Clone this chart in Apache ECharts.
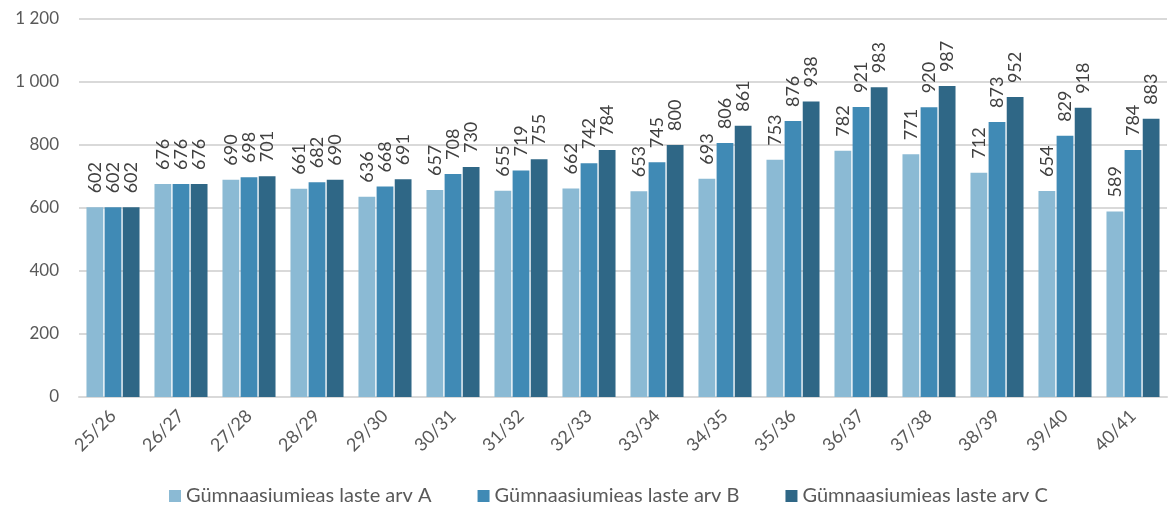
<!DOCTYPE html>
<html>
<head>
<meta charset="utf-8">
<script src="https://cdn.jsdelivr.net/npm/echarts@6/dist/echarts.min.js"></script>
<style>
  html, body { margin: 0; padding: 0; background: #fff; }
  #chart { width: 1168px; height: 515px; }
</style>
</head>
<body>
<div id="chart"></div>
<script>
// school years
var years = ['25/26', '26/27', '27/28', '28/29', '29/30', '30/31', '31/32', '32/33',
             '33/34', '34/35', '35/36', '36/37', '37/38', '38/39', '39/40', '40/41'];

var seriesA = [602, 676, 690, 661, 636, 657, 655, 662, 653, 693, 753, 782, 771, 712, 654, 589];
var seriesB = [602, 676, 698, 682, 668, 708, 719, 742, 745, 806, 876, 921, 920, 873, 829, 784];
var seriesC = [602, 676, 701, 690, 691, 730, 755, 784, 800, 861, 938, 983, 987, 952, 918, 883];

var names = ['Gümnaasiumieas laste arv A', 'Gümnaasiumieas laste arv B', 'Gümnaasiumieas laste arv C'];
var colors = ['#8bbad4', '#408ab5', '#2f6786'];

var font = 'Lato, "Noto Sans", sans-serif';

function makeSeries(name, data, color) {
  return {
    name: name,
    type: 'bar',
    data: data,
    barGap: '8%',
    barCategoryGap: '22%',
    itemStyle: { color: color },
    label: {
      show: true,
      position: 'top',
      rotate: 90,
      align: 'left',
      verticalAlign: 'middle',
      distance: 14,
      color: '#404040',
      fontSize: 18,
      fontFamily: font
    }
  };
}

var chart = echarts.init(document.getElementById('chart'));
chart.setOption({
  animation: false,
  color: colors,
  grid: { left: 79, right: 1, top: 19, bottom: 118, containLabel: false },
  legend: {
    bottom: 4,
    left: 164,
    itemWidth: 12,
    itemHeight: 12,
    itemGap: 46,
    icon: 'rect',
    textStyle: { color: '#595959', fontSize: 20, fontFamily: font },
    data: names
  },
  xAxis: {
    type: 'category',
    data: years,
    axisLine: { lineStyle: { color: '#d9d9d9', width: 2 } },
    axisTick: { show: false },
    axisLabel: {
      rotate: 45,
      interval: 0,
      margin: 16,
      color: '#595959',
      fontSize: 18,
      fontFamily: font
    }
  },
  yAxis: {
    type: 'value',
    min: 0,
    max: 1200,
    interval: 200,
    axisLine: { show: false },
    axisTick: { show: false },
    splitLine: { lineStyle: { color: '#d9d9d9', width: 2 } },
    axisLabel: {
      color: '#595959',
      fontSize: 17,
      fontFamily: font,
      margin: 20,
      formatter: function (v) {
        return String(v).replace(/\B(?=(\d{3})+(?!\d))/g, ' ');
      }
    }
  },
  series: [
    makeSeries(names[0], seriesA, colors[0]),
    makeSeries(names[1], seriesB, colors[1]),
    makeSeries(names[2], seriesC, colors[2])
  ]
});
</script>
</body>
</html>
